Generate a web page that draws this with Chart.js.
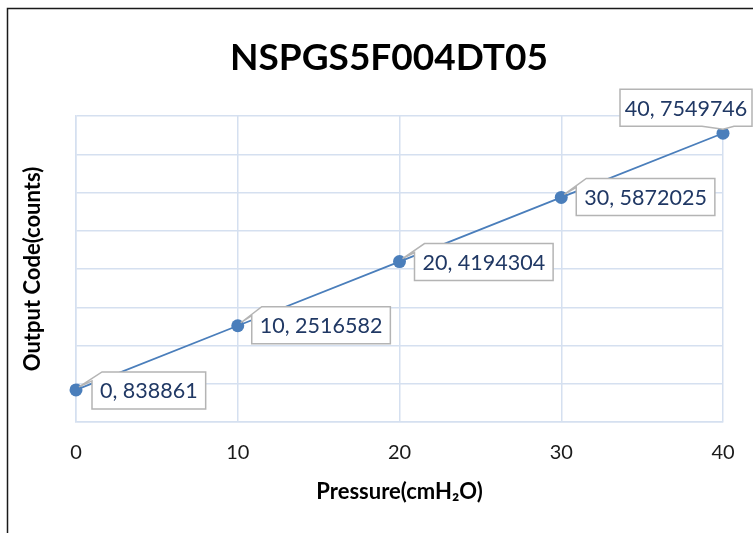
<!DOCTYPE html>
<html>
<head>
<meta charset="utf-8">
<script src="https://cdn.jsdelivr.net/npm/chart.js@4.4.1/dist/chart.umd.min.js"></script>
<style>
    html, body { margin: 0; padding: 0; background: #fff; overflow: hidden; }
    #wrap { width: 753px; height: 533px; overflow: hidden; position: relative; }
    canvas { display: block; }
</style>
</head>
<body>
<div id="wrap"><canvas id="chart" width="778" height="533"></canvas></div>
<script>
const pressure = [0, 10, 20, 30, 40];
const outputCode = [838861, 2516582, 4194304, 5872025, 7549746];
const xTicks = [0, 10, 20, 30, 40];
const chartTitle = 'NSPGS5F004DT05';
const xTitle = 'Pressure(cmH₂O)';
const yTitle = 'Output Code(counts)';

const gridColor = '#d5e0f0';
const lineColor = '#4a7ebb';

// frame around the chart (right/bottom edges fall outside the window)
const framePlugin = {
    id: 'frame',
    beforeDraw(chart) {
        const ctx = chart.ctx;
        ctx.save();
        ctx.strokeStyle = '#1a1a1a';
        ctx.lineWidth = 1.5;
        ctx.strokeRect(7.5, 8.5, 763, 600);
        ctx.restore();
    }
};

// Excel-style data callouts with a pointer to the point
const calloutPlugin = {
    id: 'callouts',
    afterDatasetsDraw(chart, args, opts) {
        const ctx = chart.ctx;
        const meta = chart.getDatasetMeta(0);
        ctx.save();
        ctx.font = opts.font;
        meta.data.forEach((pt, i) => {
            const text = pressure[i] + ', ' + outputCode[i];
            const off = opts.offsets[i];
            const left = pt.x + off.dx;
            const top = pt.y + off.dy;
            const right = Math.min(left + ctx.measureText(text).width + opts.padX * 2, opts.maxRight);
            const bottom = top + opts.height;

            ctx.beginPath();
            if (off.side === 'above') {
                ctx.moveTo(left, top);
                ctx.lineTo(right, top);
                ctx.lineTo(right, bottom);
                ctx.lineTo(pt.x + 11, bottom);
                ctx.lineTo(pt.x, pt.y - 4);
                ctx.lineTo(pt.x - 21, bottom);
                ctx.lineTo(left, bottom);
            } else {
                ctx.moveTo(left + 10, top);
                ctx.lineTo(right, top);
                ctx.lineTo(right, bottom);
                ctx.lineTo(left, bottom);
                ctx.lineTo(left, top + 9);
                ctx.lineTo(pt.x + 3, pt.y - 3);
            }
            ctx.closePath();
            ctx.fillStyle = '#ffffff';
            ctx.fill();
            ctx.strokeStyle = '#b4b4b4';
            ctx.lineWidth = 1.5;
            ctx.stroke();

            ctx.fillStyle = '#203864';
            ctx.textBaseline = 'middle';
            ctx.textAlign = 'center';
            ctx.fillText(text, (left + right) / 2, (top + bottom) / 2 + 1);
        });
        ctx.restore();
    }
};

const ctx = document.getElementById('chart').getContext('2d');

const chart = new Chart(ctx, {
    type: 'scatter',
    data: {
        datasets: [{
            data: pressure.map((p, i) => ({ x: p, y: outputCode[i] })),
            showLine: true,
            borderColor: lineColor,
            borderWidth: 1.8,
            backgroundColor: lineColor,
            pointRadius: 6.5,
            pointBorderWidth: 0,
            pointHoverRadius: 6.5,
            clip: false
        }]
    },
    options: {
        responsive: false,
        animation: false,
        devicePixelRatio: 1,
        layout: { padding: 0 },
        plugins: {
            legend: { display: false },
            tooltip: { enabled: false },
            title: {
                display: true,
                text: chartTitle,
                color: '#000',
                font: { family: 'Lato', size: 37, weight: 'bold', lineHeight: 1.2 },
                padding: { top: 35.8, bottom: 35.8 }
            },
            callouts: {
                font: '21.5px Lato',
                padX: 8,
                height: 37,
                maxRight: 752,
                offsets: [
                    { dx: 16, dy: -18, side: 'right' },
                    { dx: 14, dy: -19, side: 'right' },
                    { dx: 15, dy: -18, side: 'right' },
                    { dx: 15, dy: -19, side: 'right' },
                    { dx: -103, dy: -44, side: 'above' }
                ]
            }
        },
        scales: {
            x: {
                type: 'linear',
                min: 0,
                max: 40,
                afterBuildTicks: (scale) => { scale.ticks = xTicks.map(v => ({ value: v })); },
                afterFit: (scale) => { scale.height = 111; },
                grid: { color: gridColor, lineWidth: 1.5, drawTicks: false },
                border: { color: gridColor, width: 1.5 },
                ticks: {
                    color: '#1a1a1a',
                    padding: 19,
                    font: { family: 'Lato', size: 20 }
                },
                title: {
                    display: true,
                    text: xTitle,
                    color: '#000',
                    font: { family: 'Lato', size: 22, weight: 'bold', lineHeight: 1.2 },
                    padding: { top: 0, bottom: 27.8 }
                }
            },
            y: {
                min: 0,
                max: 8000000,
                ticks: { display: false, stepSize: 1000000 },
                afterFit: (scale) => { scale.width = 76; },
                grid: { color: gridColor, lineWidth: 1.5, drawTicks: false },
                border: { color: gridColor, width: 1.5 },
                title: {
                    display: true,
                    text: yTitle,
                    color: '#000',
                    font: { family: 'Lato', size: 22, weight: 'bold', lineHeight: 1.2 },
                    padding: { top: 19.8, bottom: 0 }
                }
            },
            // empty right-hand spacer so the title centres on the whole frame
            spacer: {
                position: 'right',
                display: true,
                grid: { display: false },
                border: { display: false },
                ticks: { display: false },
                afterFit: (scale) => { scale.width = 55; }
            }
        }
    },
    plugins: [framePlugin, calloutPlugin]
});
</script>
</body>
</html>
